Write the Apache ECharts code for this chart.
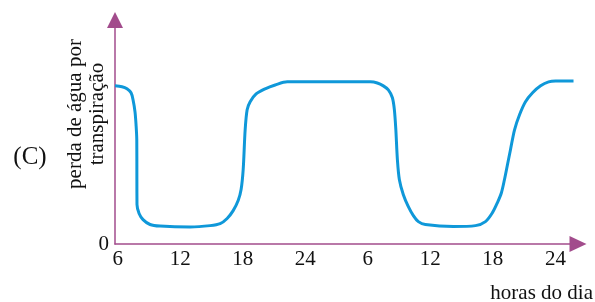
<!DOCTYPE html>
<html>
<head>
<meta charset="utf-8">
<script src="https://cdn.jsdelivr.net/npm/echarts@6/dist/echarts.min.js"></script>
<style>
    html, body { margin: 0; padding: 0; background: #fff; }
    #chart { width: 595px; height: 302px; }
</style>
</head>
<body>
<div id="chart"></div>
<script>
(function () {
    'use strict';

    // hours counted from 6h of day one (6 .. 50), labels wrap at 24
    var hours = [5.74, 6.41, 6.89, 7.28, 7.47, 7.66, 7.76, 7.83, 7.84, 7.85, 8.05, 8.43, 9.1, 10.06, 12.95,
        14.87, 15.83, 16.5, 17.08, 17.56, 17.84, 18.04, 18.23, 18.42, 18.71, 19.28, 20.15, 21.11, 22.27,
        30.24, 30.91, 31.49, 31.97, 32.36, 32.55, 32.69, 32.84, 33.03, 33.41, 33.89, 34.37, 34.85, 35.52, 38.21,
        40.33, 41.29, 41.96, 42.44, 42.82, 43.11, 43.4, 43.69, 44.08, 44.56, 45.13, 45.81, 46.58, 47.35, 48.02, 49.74];
    var waterLoss = [70.6, 70.2, 69.3, 67.5, 64.4, 59.0, 53.2, 46.5, 28.7, 17.6, 13.6, 10.9, 8.7, 8.0, 7.6,
        8.2, 9.1, 11.4, 14.9, 19.4, 24.3, 33.2, 51.0, 59.9, 63.5, 67.0, 69.3, 71.0, 72.4,
        72.4, 71.9, 70.6, 68.8, 65.3, 59.9, 51.0, 37.6, 28.7, 22.0, 16.7, 12.7, 10.0, 8.7, 7.8,
        8.2, 10.0, 14.0, 18.5, 22.9, 28.7, 35.4, 42.1, 51.0, 57.7, 63.5, 67.5, 70.6, 72.4, 72.8, 72.8];
    var tickHours = [6, 12, 18, 24, 30, 36, 42, 48];

    var axisColor = '#a24c8c';
    var lineColor = '#0f98d9';
    var font = 'Liberation Serif';

    var points = [];
    for (var i = 0; i < hours.length; i++) {
        points.push([hours[i], waterLoss[i]]);
    }

    var chart = echarts.init(document.getElementById('chart'));

    chart.setOption({
        animation: false,
        grid: { left: 115, right: 17, top: 20, bottom: 58 },
        xAxis: {
            type: 'value',
            min: 5.74,
            max: 50.17,
            splitLine: { show: false },
            axisTick: { show: false },
            axisLine: {
                lineStyle: { color: axisColor, width: 1.5 },
                symbol: ['none', 'triangle'],
                symbolSize: [16, 17]
            },
            axisLabel: {
                customValues: tickHours,
                margin: 5,
                color: '#111',
                fontFamily: font,
                fontSize: 21,
                formatter: function (v) {
                    var h = v % 24;
                    return String(h === 0 ? 24 : h);
                }
            }
        },
        yAxis: {
            type: 'value',
            min: 0,
            max: 100,
            splitLine: { show: false },
            axisTick: { show: false },
            axisLine: {
                show: true,
                lineStyle: { color: axisColor, width: 1.5 },
                symbol: ['none', 'triangle'],
                symbolSize: [16, 16]
            },
            axisLabel: {
                customValues: [0],
                margin: 6,
                color: '#111',
                fontFamily: font,
                fontSize: 21,
                padding: [0, 0, 8, 0]
            }
        },
        graphic: [
            {
                type: 'text',
                x: 86,
                y: 114,
                rotation: Math.PI / 2,
                style: {
                    text: 'perda de água por\ntranspiração',
                    fontFamily: font,
                    fontSize: 21,
                    lineHeight: 22,
                    fill: '#111',
                    align: 'center',
                    verticalAlign: 'middle'
                }
            },
            {
                type: 'text',
                x: 30,
                y: 157,
                style: {
                    text: '(C)',
                    fontFamily: font,
                    fontSize: 25,
                    fill: '#111',
                    align: 'center',
                    verticalAlign: 'middle'
                }
            },
            {
                type: 'text',
                x: 593,
                y: 293,
                style: {
                    text: 'horas do dia',
                    fontFamily: font,
                    fontSize: 21,
                    fill: '#111',
                    align: 'right',
                    verticalAlign: 'middle'
                }
            }
        ],
        series: [{
            type: 'line',
            data: points,
            smooth: 0.3,
            showSymbol: false,
            lineStyle: { color: lineColor, width: 3 }
        }]
    });
}());
</script>
</body>
</html>
